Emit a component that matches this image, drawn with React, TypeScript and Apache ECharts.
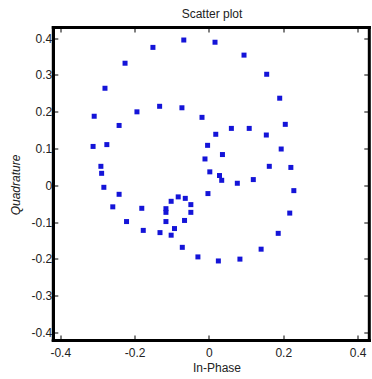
import React, { useEffect, useRef } from "react";
import * as echarts from "echarts";

const inPhase = [
  -0.069, -0.152, -0.227, -0.281, -0.31, -0.313, -0.292, -0.29, -0.284, -0.26,
  -0.223, -0.178, -0.133, -0.103, -0.073, -0.031, 0.024, 0.082, 0.139, 0.185,
  0.216, 0.227, 0.219, 0.193, 0.204, 0.189, 0.154, 0.093, 0.015,
  -0.276, -0.243, -0.195, -0.134, -0.074, -0.02, 0.017, 0.059, 0.107, 0.153,
  0.161, 0.118, 0.075, 0.033, 0.027, 0.001, -0.012, -0.005, 0.035, -0.004,
  -0.243, -0.182, -0.117, -0.117, -0.117, -0.094, -0.067, -0.05, -0.05, -0.065,
  -0.084, -0.103,
];
const quadrature = [
  0.396, 0.376, 0.333, 0.265, 0.189, 0.107, 0.053, 0.034, -0.004, -0.057,
  -0.097, -0.121, -0.127, -0.134, -0.167, -0.193, -0.204, -0.199, -0.172, -0.129,
  -0.074, -0.013, 0.05, 0.1, 0.167, 0.238, 0.303, 0.355, 0.39,
  0.112, 0.164, 0.201, 0.216, 0.212, 0.186, 0.14, 0.156, 0.156, 0.138,
  0.053, 0.017, 0.007, 0.015, 0.028, 0.038, 0.073, 0.11, 0.085, -0.021,
  -0.023, -0.061, -0.062, -0.072, -0.097, -0.116, -0.094, -0.072, -0.051, -0.034,
  -0.03, -0.042,
];
const yTickValues = [-0.4, -0.3, -0.2, -0.1, 0, 0.1, 0.2, 0.3, 0.4];
const xTickValues = [-0.4, -0.2, 0, 0.2, 0.4];
const axisMin = -0.42;
const axisMax = 0.43;

export default function App() {
  const ref = useRef<HTMLDivElement>(null);
  useEffect(() => {
    if (!ref.current) return;
    const chart = echarts.init(ref.current, null, { renderer: "svg" });
    const font = "Liberation Sans, Arial, sans-serif";
    const ink = "#000000";
    const fmt = (v: number) => {
      const r = Math.round(v * 10) / 10;
      return r === 0 ? "0" : String(r);
    };
    const mkAxis = (ticks: number[], margin: number) => ({
      type: "value",
      min: axisMin,
      max: axisMax,
      axisLine: { show: true, onZero: false, lineStyle: { color: ink, width: 3 } },
      axisTick: { show: false },
      axisLabel: {
        show: true,
        customValues: ticks,
        formatter: fmt,
        color: "#222",
        fontSize: 12,
        fontFamily: font,
        margin,
      },
      splitLine: { show: false },
    });
    const texts = [
      {
        type: "text",
        x: 217,
        y: 368,
        style: {
          text: "In-Phase",
          fill: "#222",
          font: `12px ${font}`,
          align: "center",
          verticalAlign: "middle",
        },
      },
      {
        type: "text",
        x: 16,
        y: 185,
        rotation: Math.PI / 2,
        style: {
          text: "Quadrature",
          fill: "#222",
          font: `italic 12px ${font}`,
          align: "center",
          verticalAlign: "middle",
        },
      },
    ];
    const data = inPhase.map((x, i) => [x, quadrature[i]]);
    chart.setOption({
      animation: false,
      backgroundColor: "#ffffff",
      title: {
        text: "Scatter plot",
        left: 207,
        top: 3,
        textAlign: "center",
        textStyle: { fontSize: 12, fontWeight: "normal", color: "#222", fontFamily: font },
      },
      grid: {
        left: 53.3,
        top: 27.5,
        width: 316,
        height: 313,
      },
      xAxis: mkAxis(xTickValues, 6),
      yAxis: mkAxis(yTickValues, 1),
      graphic: texts,
      series: [
        {
          type: "scatter",
          data,
          symbol: "rect",
          symbolSize: 5,
          itemStyle: { color: "#1414d8", opacity: 1 },
          z: 3,
        },
      ],
    });

    // Frame and inward ticks, positioned through the chart's own scales.
    const tl = chart.convertToPixel({ gridIndex: 0 }, [axisMin, axisMax]) as number[];
    const br = chart.convertToPixel({ gridIndex: 0 }, [axisMax, axisMin]) as number[];
    if (tl && br) {
      const x0 = tl[0];
      const y0 = tl[1];
      const x1 = br[0];
      const y1 = br[1];
      const w = 3;
      const h = w / 2;
      const tickLen = 5;
      const frame = [
        { x: x0 - h, y: y0 - h, width: w, height: y1 - y0 + w },
        { x: x1 - h, y: y0 - h, width: w, height: y1 - y0 + w },
        { x: x0 - h, y: y0 - h, width: x1 - x0 + w, height: w },
        { x: x0 - h, y: y1 - h, width: x1 - x0 + w, height: w },
      ].map((shape) => ({ type: "rect", shape, style: { fill: ink }, z: 10 }));
      const ticks: any[] = [];
      xTickValues.forEach((v) => {
        const px = chart.convertToPixel({ xAxisIndex: 0 }, v) as number;
        const x = Math.round(px) - 0.5;
        ticks.push({ type: "rect", shape: { x, y: y1 - tickLen, width: 1, height: tickLen }, style: { fill: ink }, z: 10 });
        ticks.push({ type: "rect", shape: { x, y: y0, width: 1, height: tickLen }, style: { fill: ink }, z: 10 });
      });
      yTickValues.forEach((v) => {
        const py = chart.convertToPixel({ yAxisIndex: 0 }, v) as number;
        const y = Math.round(py) - 0.5;
        ticks.push({ type: "rect", shape: { x: x0, y, width: tickLen, height: 1 }, style: { fill: ink }, z: 10 });
        ticks.push({ type: "rect", shape: { x: x1 - tickLen, y, width: tickLen, height: 1 }, style: { fill: ink }, z: 10 });
      });
      chart.setOption({ graphic: [...texts, ...frame, ...ticks] });
    }
    return () => chart.dispose();
  }, []);
  return <div ref={ref} style={{ width: 372, height: 379, position: "absolute", left: 0, top: 0 }} />;
}
